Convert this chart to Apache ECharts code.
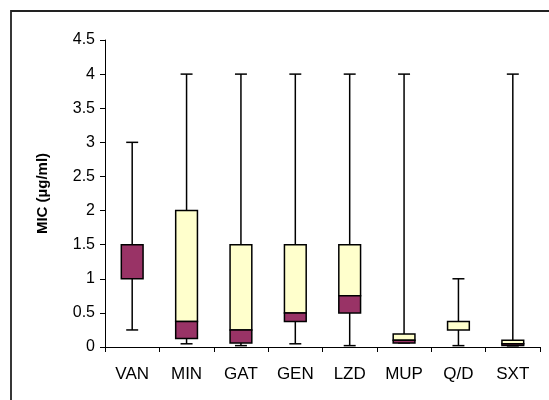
<!DOCTYPE html>
<html>
<head>
<meta charset="utf-8">
<script src="https://cdn.jsdelivr.net/npm/echarts@6/dist/echarts.min.js"></script>
<style>
html,body{margin:0;padding:0;background:#fff;}
#chart{width:549px;height:400px;}
</style>
</head>
<body>
<div id="chart"></div>
<script>
var categories = ['VAN', 'MIN', 'GAT', 'GEN', 'LZD', 'MUP', 'Q/D', 'SXT'];
var minValues    = [0.25, 0.047, 0.02, 0.047, 0.02, 0.06, 0.02, 0.016];
var q1Values     = [1.0, 0.125, 0.06, 0.375, 0.5, 0.06, 0.25, 0.023];
var medianValues = [1.5, 0.375, 0.25, 0.5, 0.75, 0.1, 0.25, 0.047];
var q3Values     = [1.5, 2.0, 1.5, 1.5, 1.5, 0.19, 0.375, 0.1];
var maxValues    = [3.0, 4.0, 4.0, 4.0, 4.0, 4.0, 1.0, 4.0];
var yTicks = [0, 0.5, 1, 1.5, 2, 2.5, 3, 3.5, 4, 4.5];

var boxData = categories.map(function (c, i) {
  return [i, minValues[i], q1Values[i], medianValues[i], q3Values[i], maxValues[i]];
});

var chart = echarts.init(document.getElementById('chart'), null, {renderer: 'canvas'});
var font = 'Arial, "Liberation Sans", sans-serif';

function renderBox(params, api) {
  var i = api.value(0);
  var pMin = api.coord([i, api.value(1)]);
  var pQ1 = api.coord([i, api.value(2)]);
  var pMed = api.coord([i, api.value(3)]);
  var pQ3 = api.coord([i, api.value(4)]);
  var pMax = api.coord([i, api.value(5)]);
  var band = api.size([1, 0])[0];
  var bw = band * 0.4;
  var cw = band * 0.22;
  var x = pMed[0];
  var lineStyle = {stroke: '#000', lineWidth: 1.5, fill: null};
  var children = [];
  children.push({type: 'line', shape: {x1: x, y1: pMax[1], x2: x, y2: pQ3[1]}, style: lineStyle});
  children.push({type: 'line', shape: {x1: x, y1: pQ1[1], x2: x, y2: pMin[1]}, style: lineStyle});
  children.push({type: 'line', shape: {x1: x - cw / 2, y1: pMax[1], x2: x + cw / 2, y2: pMax[1]}, style: lineStyle});
  children.push({type: 'line', shape: {x1: x - cw / 2, y1: pMin[1], x2: x + cw / 2, y2: pMin[1]}, style: lineStyle});
  if (pQ3[1] < pMed[1]) {
    children.push({type: 'rect', shape: {x: x - bw / 2, y: pQ3[1], width: bw, height: pMed[1] - pQ3[1]},
      style: {fill: '#FFFFCC', stroke: '#000', lineWidth: 1.5}});
  }
  if (pMed[1] < pQ1[1]) {
    children.push({type: 'rect', shape: {x: x - bw / 2, y: pMed[1], width: bw, height: pQ1[1] - pMed[1]},
      style: {fill: '#993366', stroke: '#000', lineWidth: 1.5}});
  }
  return {type: 'group', children: children};
}

chart.setOption({
  animation: false,
  backgroundColor: '#fff',
  graphic: [{
    type: 'rect', z: -1, silent: true,
    shape: {x: 11, y: 11, width: 700, height: 700},
    style: {fill: null, stroke: '#222', lineWidth: 1.8}
  }],
  grid: {left: 105, right: 9, top: 40, bottom: 53},
  xAxis: {
    type: 'category',
    data: categories,
    boundaryGap: true,
    axisLine: {lineStyle: {color: '#000', width: 1}},
    axisTick: {show: true, length: 5, lineStyle: {color: '#000'}},
    axisLabel: {color: '#000', fontSize: 17, fontFamily: font, margin: 19},
    splitLine: {show: false}
  },
  yAxis: {
    type: 'value',
    min: 0, max: 4.5, interval: 0.5,
    name: 'MIC (µg/ml)',
    nameLocation: 'middle',
    nameGap: 55,
    nameTextStyle: {color: '#000', fontSize: 15, fontWeight: 'bold', fontFamily: font},
    axisLine: {show: true, lineStyle: {color: '#000', width: 1}},
    axisTick: {show: true, length: 5, lineStyle: {color: '#000'}},
    axisLabel: {color: '#000', fontSize: 16, fontFamily: font, margin: 10,
      formatter: function (v) { return yTicks.indexOf(v) >= 0 ? String(v) : ''; }},
    splitLine: {show: false}
  },
  series: [{
    type: 'custom',
    renderItem: renderBox,
    encode: {x: 0, y: [1, 2, 3, 4, 5]},
    data: boxData
  }]
});
</script>
</body>
</html>
